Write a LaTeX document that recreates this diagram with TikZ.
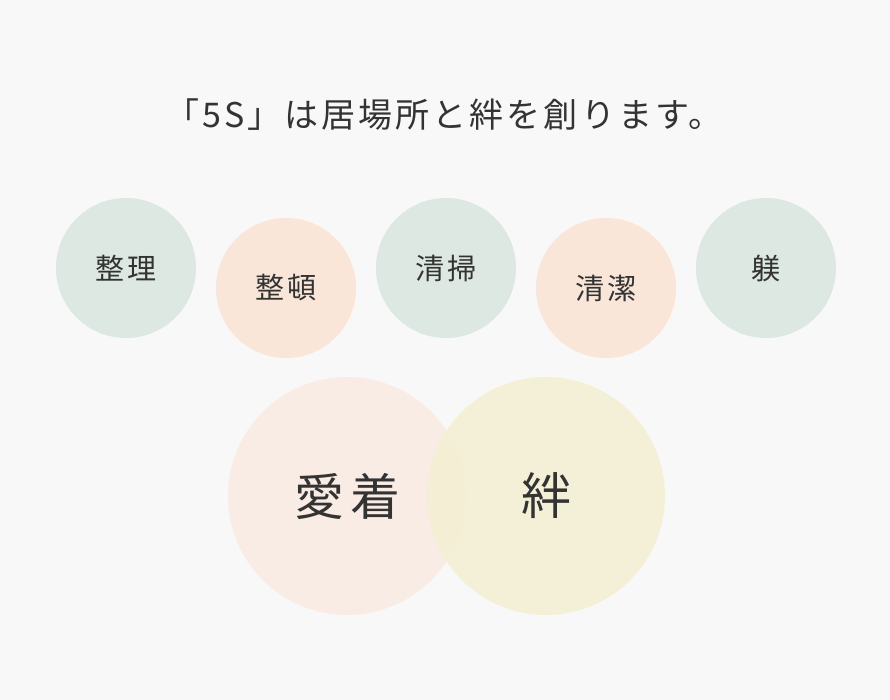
\documentclass[tikz,border=0pt]{standalone}
\usepackage{fontspec}
\setmainfont{Noto Sans CJK JP}
\newfontfamily\jpfont{Noto Sans CJK JP}
\definecolor{bgcol}{HTML}{F8F8F8}
\definecolor{txtcol}{HTML}{333333}
\definecolor{greencol}{HTML}{DCE8E1}
\definecolor{peachcol}{HTML}{F9E6D9}
\definecolor{palepeach}{HTML}{F9ECE5}
\definecolor{yellowcol}{HTML}{F4EFD2}

\begin{document}
\begin{tikzpicture}[x=1pt, y=-1pt]
    \tikzset{
        smallcirc/.style={circle, minimum size=140pt, inner sep=0pt, text=txtcol,
            font=\jpfont\addfontfeature{LetterSpace=8}\fontsize{29}{32}\selectfont},
        bigcirc/.style={circle, minimum size=238pt, inner sep=0pt, text=txtcol,
            font=\jpfont\addfontfeature{LetterSpace=12}\fontsize{50}{56}\selectfont}
    }
    \fill[bgcol] (0,0) rectangle (890,700);
    \useasboundingbox (0,0) rectangle (890,700);

    \node[text=txtcol, font=\jpfont\addfontfeature{LetterSpace=9}\fontsize{34}{38}\selectfont]
        (title) at (444,115) {「5S」は居場所と絆を創ります。};

    %% the five S
    \foreach \name/\x/\y/\col/\txt in {seiri/126/268/greencol/整理, seiton/286/288/peachcol/整頓,
            seisou/446/268/greencol/清掃, seiketsu/606/288/peachcol/清潔, shitsuke/766/268/greencol/躾} {
            \node[smallcirc, fill=\col] (\name) at (\x,\y) {\txt};
        }

    %% attachment and bond
    \node[bigcirc, fill=palepeach] (aichaku) at (347,496) {愛着};
    \node[bigcirc, fill=yellowcol, fill opacity=0.85, text opacity=1] (kizuna) at (546,496) {絆};
\end{tikzpicture}
\end{document}
